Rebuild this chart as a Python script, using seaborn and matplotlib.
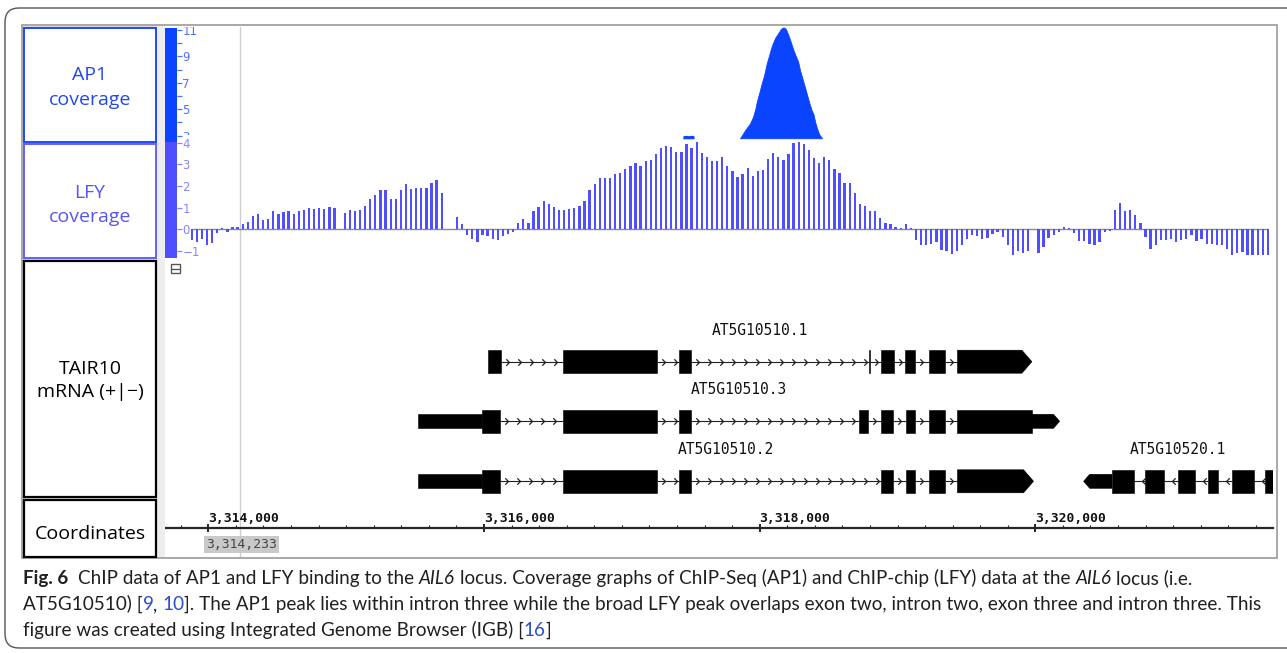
import numpy as np
import pandas as pd
import matplotlib
matplotlib.use("Agg")
import matplotlib.pyplot as plt
from matplotlib import font_manager
from matplotlib.patches import Rectangle, Polygon, FancyBboxPatch
from matplotlib.transforms import IdentityTransform, Bbox, TransformedBbox
from matplotlib.ticker import MultipleLocator, FuncFormatter, FixedLocator
import seaborn as sns

sns.set_style("white")

# --- browser window (chr5) ---
view_start, view_end = 3313686, 3321724
cursor_pos = 3314233

# LFY ChIP-chip tiling probes (log ratio), nan = no probe
lfy_first_probe = 3313880
lfy_probe_step = 37
nan = np.nan
lfy_signal = [
    -0.5, -0.57, -0.46, -0.72, -0.62, -0.15, 0.05, -0.1, 0.1, 0.1,
    0.25, 0.35, 0.63, 0.7, 0.43, 0.48, 0.85, 0.7, 0.78, 0.85,
    0.7, 0.85, 0.9, 1.0, 0.94, 1.0, 0.94, 1.05, 1.0, nan,
    0.77, 0.9, 0.85, 0.9, 1.1, 1.4, 1.6, 1.8, 1.8, 1.4,
    1.4, 1.8, 2.08, 1.85, 1.9, 1.9, 1.9, 2.15, 2.28, 1.66,
    nan, nan, 0.58, 0.25, -0.26, -0.42, -0.57, -0.26, -0.3, -0.42,
    -0.5, -0.3, -0.22, -0.1, 0.3, 0.48, 0.3, 0.86, 1.05, 1.3,
    1.17, 1.05, 0.9, 0.9, 0.94, 1.0, 1.1, 1.3, 1.8, 2.08,
    2.38, 2.38, 2.38, 2.54, 2.58, 2.78, 2.94, 3.05, 2.9, 3.15,
    3.2, 3.46, 3.77, 3.86, 3.82, 3.55, 3.55, 3.92, 3.77, 4.02,
    3.5, 3.35, 3.15, 3.15, 3.35, 2.9, 2.7, 2.43, 2.54, 2.85,
    2.48, 2.7, 2.74, 3.25, 3.5, 3.35, 3.2, 3.46, 3.97, 4.02,
    3.92, 3.66, 3.3, 3.05, 3.35, 3.2, 2.78, 2.58, 2.12, 2.12,
    1.7, 1.15, 1.1, 0.85, 0.85, 0.54, 0.3, 0.25, 0.12, 0.08,
    0.23, 0.08, -0.5, -0.72, -0.72, -0.65, -0.57, -0.95, -0.98,
    -1.15, -1.0, -0.74, -0.43, -0.28, -0.3, -0.43, -0.38, -0.23, -0.12,
    -0.34, -0.74, -1.2, -1.0, -1.08, -1.0, nan, -1.08, -0.82, -0.38,
    -0.28, -0.12, 0.1, 0.05, -0.18, -0.54, -0.54, -0.65, -0.7, -0.58,
    -0.12, -0.08, 0.9, 1.23, 0.85, 0.9, 0.66, 0.28, -0.34, -0.9,
    -0.7, -0.5, -0.5, -0.43, -0.58, -0.5, -0.43, -0.28, -0.54, -0.43,
    -0.65, -0.65, -0.74, -0.74, -0.9, -1.2, -1.08, -1.05, -1.2, -1.2,
    -1.2, -1.2, -1.2,
]

# AP1 ChIP-Seq coverage
ap1_floor = 2.8
ap1_pos = [3317858, 3317870, 3317895, 3317929, 3317951, 3317968, 3317980, 3317996,
           3318016, 3318033, 3318052, 3318069, 3318088, 3318112, 3318137, 3318156,
           3318173, 3318189, 3318209, 3318221, 3318241, 3318263, 3318279, 3318294,
           3318314, 3318333, 3318354, 3318374, 3318391, 3318403, 3318418, 3318432,
           3318452]
ap1_cov = [2.8, 3.0, 3.42, 3.9, 4.4, 5.0, 5.6, 6.2, 7.0, 7.6, 8.5, 9.1, 9.8, 10.4,
           10.8, 11.1, 11.2, 11.1, 10.6, 10.24, 9.6, 9.0, 8.6, 7.9, 7.2, 6.5, 5.7,
           5.0, 4.6, 4.0, 3.5, 3.1, 2.8]
ap1_blip_pos = [3317447, 3317465, 3317485, 3317505, 3317520]
ap1_blip_cov = [2.95, 2.98, 2.95, 2.98, 2.95]

ap1_ticks = [3, 5, 7, 9, 11]
ap1_minor = [4, 6, 8, 10]
lfy_ticks = [-1, 0, 1, 2, 3, 4]
coord_ticks = [3314000, 3316000, 3318000, 3320000]

# TAIR10 gene models
tx_names = ["AT5G10510.1", "AT5G10510.3", "AT5G10510.2", "AT5G10520.1"]
tx_row = [0, 1, 2, 2]
tx_strand = ["+", "+", "+", "-"]
tx_utr = [
    [],
    [(3315524, 3315984), (3319975, 3320176)],
    [(3315524, 3315984)],
    [(3320350, 3320556)],
]
tx_cds = [
    [(3316028, 3316122), (3316576, 3317254), (3317418, 3317501), (3318795, 3318799),
     (3318880, 3318971), (3319056, 3319128), (3319225, 3319346), (3319435, 3319975)],
    [(3315984, 3316117), (3316576, 3317254), (3317418, 3317501), (3318722, 3318785),
     (3318882, 3318967), (3319061, 3319128), (3319230, 3319346), (3319435, 3319975)],
    [(3315984, 3316117), (3316576, 3317254), (3317418, 3317501),
     (3318882, 3318967), (3319061, 3319128), (3319230, 3319346), (3319435, 3319987)],
    [(3320556, 3320713), (3320798, 3320935), (3321032, 3321160), (3321253, 3321325),
     (3321427, 3321584), (3321668, 3321850)],
]

AP1_COL = "#0a44ff"
LFY_COL = "#4f4fff"

W, H = 1287, 653
fig = plt.figure(figsize=(W / 100, H / 100), dpi=100)


def box(x0, y0, x1, y1):
    return [x0 / W, 1 - y1 / H, (x1 - x0) / W, (y1 - y0) / H]


def px_rect(x0, y0, x1, y1, **kw):
    r = Rectangle((x0 / W, 1 - y1 / H), (x1 - x0) / W, (y1 - y0) / H,
                  transform=fig.transFigure, **kw)
    fig.add_artist(r)
    return r


def ftext(x, y, s, **kw):
    return fig.text(x / W, 1 - y / H, s, **kw)


def ap1_lim(ytop, ybot):
    return (11 - (ybot - 30) / 13.2, 11 - (ytop - 30) / 13.2)


def lfy_lim(ytop, ybot):
    return ((229.4 - ybot) / 21.7, (229.4 - ytop) / 21.7)


# frames
outer = FancyBboxPatch((5, H - 648), 1330, 640, boxstyle="round,pad=0,rounding_size=14",
                       transform=IdentityTransform(), fill=False, ec="#555555", lw=1.0)
fig.add_artist(outer)
px_rect(23, 26, 157, 557, fc="#dcdcdc", ec="none")
px_rect(157, 26, 165, 557, fc="#ededed", ec="none")
px_rect(22, 25, 1277, 558, fill=False, ec="#9a9a9a", lw=1.2)

# left label boxes
lab_font = ["Open Sans", "DejaVu Sans"]
px_rect(24, 28.5, 155.5, 142, fc="white", ec="#1f47ff", lw=1.4)
px_rect(24, 144, 155.5, 258.5, fc="white", ec="#6060ff", lw=1.4)
px_rect(24, 260.5, 155.5, 497, fc="white", ec="black", lw=1.6)
px_rect(24, 499.5, 155.5, 556.5, fc="white", ec="black", lw=1.6)
ftext(90, 80.5, "AP1", ha="center", va="baseline", color="#2148f0", fontsize=14, family=lab_font)
ftext(90, 105, "coverage", ha="center", va="baseline", color="#2148f0", fontsize=14, family=lab_font)
ftext(90, 197.7, "LFY", ha="center", va="baseline", color="#5656f5", fontsize=14, family=lab_font)
ftext(90, 221.7, "coverage", ha="center", va="baseline", color="#5656f5", fontsize=14, family=lab_font)
ftext(90, 374, "TAIR10", ha="center", va="baseline", color="black", fontsize=14, family=lab_font)
ftext(90, 397, "mRNA (+|\u2212)", ha="center", va="baseline", color="black", fontsize=14, family=lab_font)
ftext(90, 539, "Coordinates", ha="center", va="baseline", color="black", fontsize=14, family=lab_font)

# track axes
ax_ap1 = fig.add_axes(box(165, 27, 1273, 142))
ax_lfy = fig.add_axes(box(165, 142, 1273, 258))
ax_gene = fig.add_axes(box(165, 258, 1273, 498))
ax_coord = fig.add_axes(box(165, 498, 1273, 557))
for ax in (ax_ap1, ax_lfy, ax_gene, ax_coord):
    ax.set_facecolor("none")
    ax.axvline(cursor_pos, color="#cfcfcf", lw=1, zorder=0)

# AP1 coverage
ax_ap1.fill_between(ap1_pos, ap1_floor, ap1_cov, color=AP1_COL, lw=0.6, edgecolor=AP1_COL)
ax_ap1.fill_between(ap1_blip_pos, ap1_floor, ap1_blip_cov, color=AP1_COL, lw=0.8, edgecolor=AP1_COL)
ax_ap1.set_xlim(view_start, view_end)
ax_ap1.set_ylim(*ap1_lim(27, 142))
ax_ap1.axis("off")

# LFY tiling bars
lfy_df = pd.DataFrame({
    "pos": lfy_first_probe + lfy_probe_step * np.arange(len(lfy_signal)),
    "signal": lfy_signal,
}).dropna()
ax_lfy.hlines(0, lfy_df["pos"].min(), lfy_df["pos"].max(), color="#8a8a8a", lw=1, zorder=1)
sns.barplot(data=lfy_df, x="pos", y="signal", native_scale=True, orient="x", width=0.45,
            color=LFY_COL, saturation=1, errorbar=None, linewidth=0, ax=ax_lfy, zorder=2)
ax_lfy.set_xlim(view_start, view_end)
ax_lfy.set_ylim(*lfy_lim(142, 258))
ax_lfy.axis("off")

# scale bars
clip_ap1 = TransformedBbox(Bbox.from_extents(0, 1 - 135 / H, 1, 1 - 26.5 / H), fig.transFigure)
for (y0, y1, col, tcol, ticks, minor, lim) in [
        (28, 142, AP1_COL, "#4d70ff", ap1_ticks, ap1_minor, ap1_lim(28, 142)),
        (142, 258, LFY_COL, "#8585ff", lfy_ticks, [], lfy_lim(142, 258))]:
    sax = fig.add_axes(box(165, y0, 177, y1))
    sax.set_facecolor(col)
    for sp in sax.spines.values():
        sp.set_visible(False)
    sax.set_xticks([])
    sax.set_ylim(*lim)
    sax.yaxis.tick_right()
    sax.yaxis.set_major_locator(FixedLocator(ticks))
    sax.yaxis.set_minor_locator(FixedLocator(minor))
    sax.tick_params(axis="y", which="both", direction="out", length=3.5, width=0.9,
                    color=tcol, labelcolor=tcol, labelsize=8.5, pad=0.3)
    if minor:
        for lab in sax.yaxis.get_majorticklabels():
            lab.set_clip_box(clip_ap1)
            lab.set_clip_on(True)

# collapse icon
px_rect(171, 264, 180, 273, fill=False, ec="#555555", lw=1)
fig.add_artist(plt.Line2D([172 / W, 179 / W], [1 - 268.5 / H] * 2, transform=fig.transFigure,
                          color="#555555", lw=1))

# gene models
row_y = [361.7, 421.3, 481.3]
bp_px = (view_end - view_start) / (1273 - 165)
ax_gene.set_xlim(view_start, view_end)
ax_gene.set_ylim(498, 258)
ax_gene.axis("off")
chev_r = [(-1, 1), (0, 0), (-1, -1)]
chev_l = [(1, 1), (0, 0), (1, -1)]
for name, row, strand, utr, cds in zip(tx_names, tx_row, tx_strand, tx_utr, tx_cds):
    yc = row_y[row]
    blocks = sorted([(s, e, 14) for s, e in utr] + [(s, e, 23) for s, e in cds])
    for k, (s, e, h) in enumerate(blocks):
        tip = 0.87 * h / 2 * bp_px
        if strand == "+" and k == len(blocks) - 1:
            pts = [(s, yc - h / 2), (e - tip, yc - h / 2), (e, yc), (e - tip, yc + h / 2), (s, yc + h / 2)]
        elif strand == "-" and k == 0:
            pts = [(s, yc), (s + tip, yc - h / 2), (e, yc - h / 2), (e, yc + h / 2), (s + tip, yc + h / 2)]
        else:
            pts = [(s, yc - h / 2), (e, yc - h / 2), (e, yc + h / 2), (s, yc + h / 2)]
        ax_gene.add_patch(Polygon(pts, closed=True, fc="black", ec="black", lw=0.4))
    for (s0, e0, _), (s1, e1, _) in zip(blocks[:-1], blocks[1:]):
        if s1 - e0 < 5:
            continue
        ax_gene.plot([e0, s1], [yc, yc], color="#222222", lw=0.8)
        marks = np.arange(e0 + 8 * bp_px, s1 - 2 * bp_px, 12 * bp_px)
        ax_gene.plot(marks, np.full(len(marks), yc), ls="none",
                     marker=chev_r if strand == "+" else chev_l, ms=4.6,
                     mfc="none", mec="#222222", mew=0.9)
    lo = max(blocks[0][0], view_start)
    hi = min(blocks[-1][1], view_end)
    ax_gene.text((lo + hi) / 2, yc - 31.5, name, ha="center", va="center",
                 family="DejaVu Sans Mono", fontsize=10.5, color="#111111")

# coordinate ruler
ax_coord.set_xlim(view_start, view_end)
ax_coord.set_ylim(0, 1)
for s in ("left", "right", "bottom"):
    ax_coord.spines[s].set_visible(False)
ax_coord.spines["top"].set_position(("axes", (557 - 528) / 59))
ax_coord.spines["top"].set_linewidth(1.6)
ax_coord.set_yticks([])
ax_coord.xaxis.set_ticks_position("top")
ax_coord.xaxis.set_major_locator(FixedLocator(coord_ticks))
ax_coord.xaxis.set_minor_locator(MultipleLocator(200))
ax_coord.xaxis.set_major_formatter(FuncFormatter(lambda v, p: f"{int(v):,}"))
ax_coord.tick_params(axis="x", which="major", direction="inout", length=5.5, width=1.4,
                     pad=-0.5, labelsize=9.4, labelfontfamily="DejaVu Sans Mono",
                     labelcolor="#111111")
ax_coord.tick_params(axis="x", which="minor", direction="out", length=2.5, width=0.8)
for lab in ax_coord.xaxis.get_majorticklabels():
    lab.set_ha("left")
    lab.set_fontweight("bold")
ftext(206, 544.5, f"{cursor_pos:,}", ha="left", va="center", family="DejaVu Sans Mono",
      fontsize=9.4, color="#444444",
      bbox=dict(boxstyle="square,pad=0.18", fc="#c9c9c9", ec="none"))

# caption
names = {f.name for f in font_manager.fontManager.ttflist}
cap_family = "Liberation Sans Narrow" if "Liberation Sans Narrow" in names else "Lato"
cap_lines = [
    [("Fig. 6", "b"), ("  ", " "), ("ChIP data of AP1 and LFY binding to the", "n"), (" ", " "),
     ("AIL6", "i"), (" ", " "),
     ("locus. Coverage graphs of ChIP-Seq (AP1) and ChIP-chip (LFY) data at the", "n"),
     (" ", " "), ("AIL6", "i"), (" ", " "), ("locus (i.e.", "n")],
    [("AT5G10510) [", "n"), ("9", "l"), (",", "n"), (" ", " "), ("10", "l"),
     ("]. The AP1 peak lies within intron three while the broad LFY peak overlaps exon two, "
      "intron two, exon three and intron three. This", "n")],
    [("figure was created using Integrated Genome Browser (IGB) [", "n"), ("16", "l"), ("]", "n")],
]
styles = {
    "n": dict(color="#231f20"),
    "b": dict(color="#231f20", fontweight="bold"),
    "i": dict(color="#231f20", fontstyle="italic"),
    "l": dict(color="#2b4fc9"),
}
renderer = fig.canvas.get_renderer()


def text_w(s, size, **kw):
    t = fig.text(0, 0, s, fontsize=size, family=[cap_family, "DejaVu Sans"], **kw)
    w = t.get_window_extent(renderer).width
    t.remove()
    return w


full2 = "".join(r for r, _ in cap_lines[1])
cap_size = 10 * 1239 / text_w(full2, 10)
space_w = text_w("a a", cap_size) - text_w("aa", cap_size)
for line, base in zip(cap_lines, [584, 610, 636]):
    x = 23
    for run, st in line:
        if st == " ":
            x += space_w * len(run)
            continue
        t = ftext(x, base, run, fontsize=cap_size, va="baseline", ha="left",
                  family=[cap_family, "DejaVu Sans"], **styles[st])
        x += t.get_window_extent(renderer).width

fig.savefig("out.png", dpi=100, facecolor="white")
